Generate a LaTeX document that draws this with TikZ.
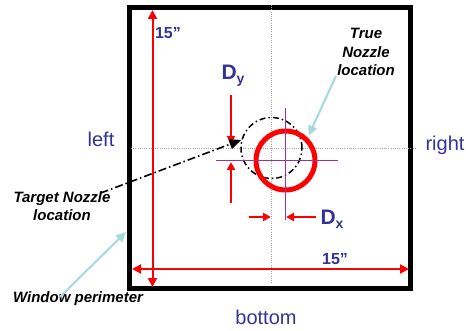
\documentclass[tikz,border=0pt]{standalone}
\usepackage{fontspec}
\setmainfont{Liberation Sans}
\usetikzlibrary{arrows.meta,positioning}
\definecolor{labelblue}{HTML}{333399}
\definecolor{crosspurple}{HTML}{993399}
\definecolor{pointerblue}{HTML}{A6D9DC}
\newcommand{\offs}[1]{D\raisebox{-4pt}{\fontsize{14}{14}\selectfont #1}}
\begin{document}
\begin{tikzpicture}[
  x=1pt,y=-1pt,
  every node/.style={inner sep=0pt},
  side/.style={text=labelblue,font=\fontsize{20}{24}\selectfont},
  dimtext/.style={text=labelblue,font=\fontsize{16}{19}\selectfont\bfseries},
  offtext/.style={text=labelblue,font=\fontsize{21}{24}\selectfont\bfseries},
  note/.style={font=\fontsize{15}{18.5}\selectfont\bfseries\itshape,align=center},
  window/.style={draw,line width=5pt,minimum width=281.5pt,minimum height=281pt},
  axis/.style={gray!70,line width=0.8pt,dash pattern=on 1pt off 1.2pt},
  dim/.style={{Triangle[length=9pt,width=9pt]}-{Triangle[length=9pt,width=9pt]},red,line width=2pt},
  off/.style={-{Triangle[length=8pt,width=8pt]},red,line width=2pt},
  cross/.style={crosspurple,line width=1.8pt},
  target/.style={circle,draw,line width=1.5pt,minimum size=61pt,dash pattern=on 6pt off 3pt on 1.5pt off 3pt},
  nozzle/.style={circle,draw=red,line width=5pt,minimum size=59pt},
  tgtptr/.style={-{Triangle[length=12pt,width=10pt]},line width=1.6pt,dash pattern=on 8pt off 3pt on 1.5pt off 3pt},
  ptr/.style={-{Triangle[length=10pt,width=9pt]},pointerblue,line width=2pt}
]
\useasboundingbox (0,0) rectangle (466,331);
\node[window] (win) at (269.75,148) {};
% centre lines
\coordinate (vtop) at (271.5,5);
\coordinate (vbot) at (271.5,283);
\coordinate (hleft) at (131,148);
\coordinate (hright) at (416,148);
\draw[axis] (vtop) -- (vbot);
\draw[axis] (hleft) -- (hright);
% window size
\coordinate (ht) at (152.5,10);
\coordinate (hb) at (152.5,287);
\coordinate (wl) at (132,269);
\coordinate (wr) at (409,269);
\draw[dim] (ht) -- (hb);
\draw[dim] (wl) -- (wr);
\node[dimtext] (hsize) at (168,33) {15”};
\node[dimtext] (wsize) at (335,259) {15”};
% nozzles
\node[target] (tgt) at (271.5,148) {};
\node[nozzle] (true) at (285.5,160.5) {};
\coordinate (cn) at (285.5,108);
\coordinate (cs) at (285.5,220);
\coordinate (cw) at (216,160.5);
\coordinate (ce) at (338,160.5);
\draw[cross] (cn) -- (cs);
\draw[cross] (cw) -- (ce);
% offsets
\coordinate (dyt) at (231,95);
\coordinate (dytip) at (231,144);
\coordinate (dyb) at (231,203);
\coordinate (dybtip) at (231,162);
\draw[off] (dyt) -- (dytip);
\draw[off] (dyb) -- (dybtip);
\coordinate (dxl) at (249,217);
\coordinate (dxltip) at (271,217);
\coordinate (dxr) at (316,217);
\coordinate (dxrtip) at (286,217);
\draw[off] (dxl) -- (dxltip);
\draw[off] (dxr) -- (dxrtip);
\node[offtext] (dy) at (233,76) {\offs{y}};
\node[offtext] (dx) at (332,219) {\offs{x}};
% sides
\node[side] (left) at (101,139) {left};
\node[side] (right) at (445,145) {right};
\node[side] (bottom) at (266,317) {bottom};
% notes
\node[note] (tgtnote) at (62,206) {Target Nozzle\\location};
\node[note] (truenote) at (366,52) {True\\Nozzle\\location};
\node[note] (winnote) at (78,299) {Window perimeter};
\coordinate (winedge) at (126,232);
\draw[tgtptr] ([xshift=-10pt,yshift=-2pt]tgtnote.north east) -- (tgt.165);
\draw[ptr,shorten >=2pt] ([xshift=-30pt]truenote.south) -- (true.46);
\draw[ptr] ([xshift=-18pt,yshift=-5pt]winnote.north) -- (winedge);
\end{tikzpicture}
\end{document}
